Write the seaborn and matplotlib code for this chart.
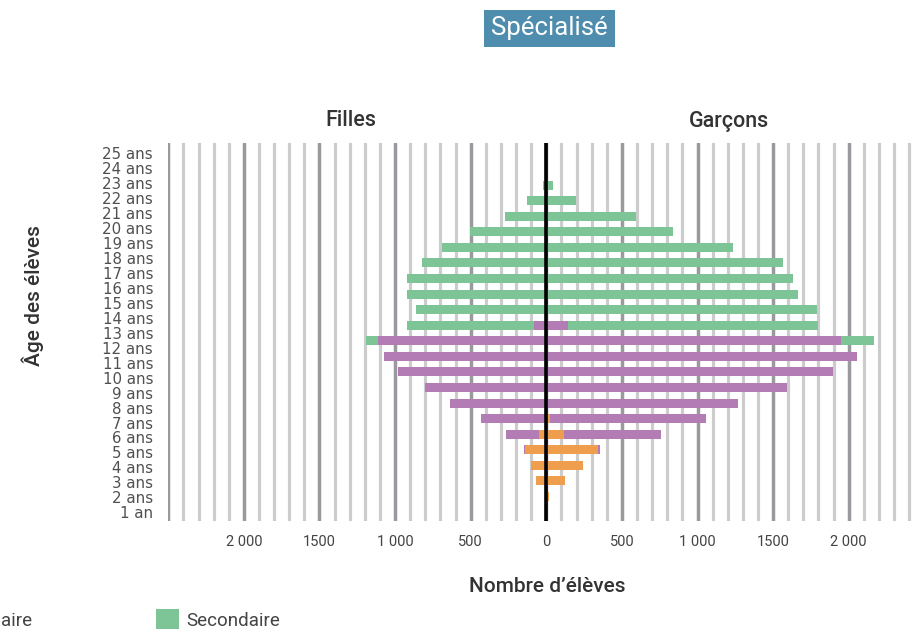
import numpy as np
import pandas as pd
import matplotlib
matplotlib.use("Agg")
import matplotlib.pyplot as plt
from matplotlib.patches import Rectangle
from matplotlib.ticker import FixedLocator, MultipleLocator
import seaborn as sns

# ages of the bars, 1 an .. 24 ans
ages = ["1 an"] + [f"{a} ans" for a in range(2, 25)]
# labels shown on the y axis (25 rows, top to bottom)
age_labels = [f"{a} ans" for a in range(25, 1, -1)] + ["1 an"]

# Filles (girls)
girls_presco = [5, 5, 70, 103, 140, 50, 5, 0, 0, 0, 0, 0, 0, 0, 0, 0, 0, 0, 0, 0, 0, 0, 0, 0]
girls_prim = [0, 0, 0, 0, 9, 218, 428, 638, 804, 982, 1075, 1114, 83, 0, 0, 0, 0, 0, 0, 0, 0, 0, 0, 0]
girls_sec = [0, 0, 0, 0, 0, 0, 0, 0, 0, 0, 0, 80, 840, 865, 920, 920, 825, 690, 505, 275, 130, 25, 10, 0]
# Garçons (boys)
boys_presco = [2, 15, 122, 241, 341, 116, 23, 0, 0, 0, 0, 0, 0, 0, 0, 0, 0, 0, 0, 0, 0, 0, 0, 0]
boys_prim = [0, 0, 0, 0, 13, 641, 1032, 1266, 1591, 1895, 2054, 1948, 142, 0, 0, 0, 0, 0, 0, 0, 0, 0, 0, 0]
boys_sec = [0, 0, 0, 0, 0, 0, 0, 0, 0, 0, 0, 218, 1654, 1790, 1665, 1630, 1565, 1235, 835, 590, 195, 45, 3, 0]

levels = ["Préscolaire", "Primaire", "Secondaire"]
colors = ["#EE9E4C", "#B47CB5", "#7DC596"]

x_ticks = list(range(-2500, 2501, 500))
x_ticklabels = ["", "2 000", "1500", "1 000", "500", "0", "500", "1 000", "1500", "2 000", ""]

W, H = 919, 629

sns.set_style("white")
plt.rcParams["font.family"] = ["Roboto", "DejaVu Sans"]

df = pd.DataFrame({
    "age": ages,
    "f1": -np.array(girls_presco),
    "f2": -(np.array(girls_presco) + np.array(girls_prim)),
    "f3": -(np.array(girls_presco) + np.array(girls_prim) + np.array(girls_sec)),
    "g1": np.array(boys_presco),
    "g2": np.array(boys_presco) + np.array(boys_prim),
    "g3": np.array(boys_presco) + np.array(boys_prim) + np.array(boys_sec),
})
order = ages[::-1]

fig = plt.figure(figsize=(W / 100, H / 100), dpi=100)
ax = fig.add_axes([168.3 / W, 1 - 521 / H, 756 / W, 378 / H])

# stacked look: draw cumulative totals from the outside in
for side in ["f", "g"]:
    for k, c in zip([3, 2, 1], colors[::-1]):
        sns.barplot(data=df, x=f"{side}{k}", y="age", order=order, orient="h",
                    color=c, saturation=1, width=0.58, linewidth=0, ax=ax)

ax.axvline(0, color="black", lw=2.6, zorder=5)

ax.set_xlim(-2500, 2500)
ax.set_ylim(23.58, -0.707)
ax.xaxis.set_major_locator(FixedLocator(x_ticks))
ax.set_xticklabels(x_ticklabels)
ax.xaxis.set_minor_locator(MultipleLocator(100))
ax.grid(which="minor", axis="x", color="#cccccc", lw=2.3)
ax.grid(which="major", axis="x", color="#9a9a9e", lw=2.5)
ax.grid(axis="y", visible=False)
ax.set_axisbelow(True)

ax.set_yticks(np.linspace(-0.083, 23.03, 25))
ax.set_yticklabels(age_labels, fontfamily="DejaVu Sans", fontsize=10.8, color="#505050")
ax.tick_params(axis="y", length=0, pad=11)
ax.tick_params(axis="x", which="both", length=0, pad=10, labelsize=10.5, labelcolor="#444444")
ax.set_xlabel("")
ax.set_ylabel("")
sns.despine(ax=ax, left=True, bottom=True)

# titles and axis names
fig.text(549.5 / W, 1 - 28.5 / H, "Spécialisé", ha="center", va="center", color="white",
         fontsize=18.5, bbox=dict(boxstyle="square,pad=0.26", fc="#4E8DAE", ec="none"))
fig.text(351 / W, 1 - 121 / H, "Filles", ha="center", va="center", fontsize=15.5,
         fontweight="medium", color="#333333")
fig.text(729.5 / W, 1 - 121 / H, "Garçons", ha="center", va="center", fontsize=15.5,
         fontweight="medium", color="#333333")
fig.text(33 / W, 1 - 296 / H, "Âge des élèves", ha="center", va="center", rotation=90,
         fontsize=15, fontweight="medium", color="#333333")
fig.text(547 / W, 1 - 587 / H, "Nombre d’élèves", ha="center", va="center", fontsize=15,
         fontweight="medium", color="#333333")

# legend (partly outside the canvas, like the source)
for i, (lab, c) in enumerate(zip(levels, colors)):
    x0 = 156 - (2 - i) * 224
    fig.patches.append(Rectangle((x0 / W, 1 - 632 / H), 23 / W, 23 / H,
                                 transform=fig.transFigure, fc=c, ec="none"))
    fig.text((x0 + 30) / W, 1 - 621 / H, lab, ha="left", va="center", fontsize=13.5,
             color="#444444")

fig.savefig("out.png", dpi=100)
